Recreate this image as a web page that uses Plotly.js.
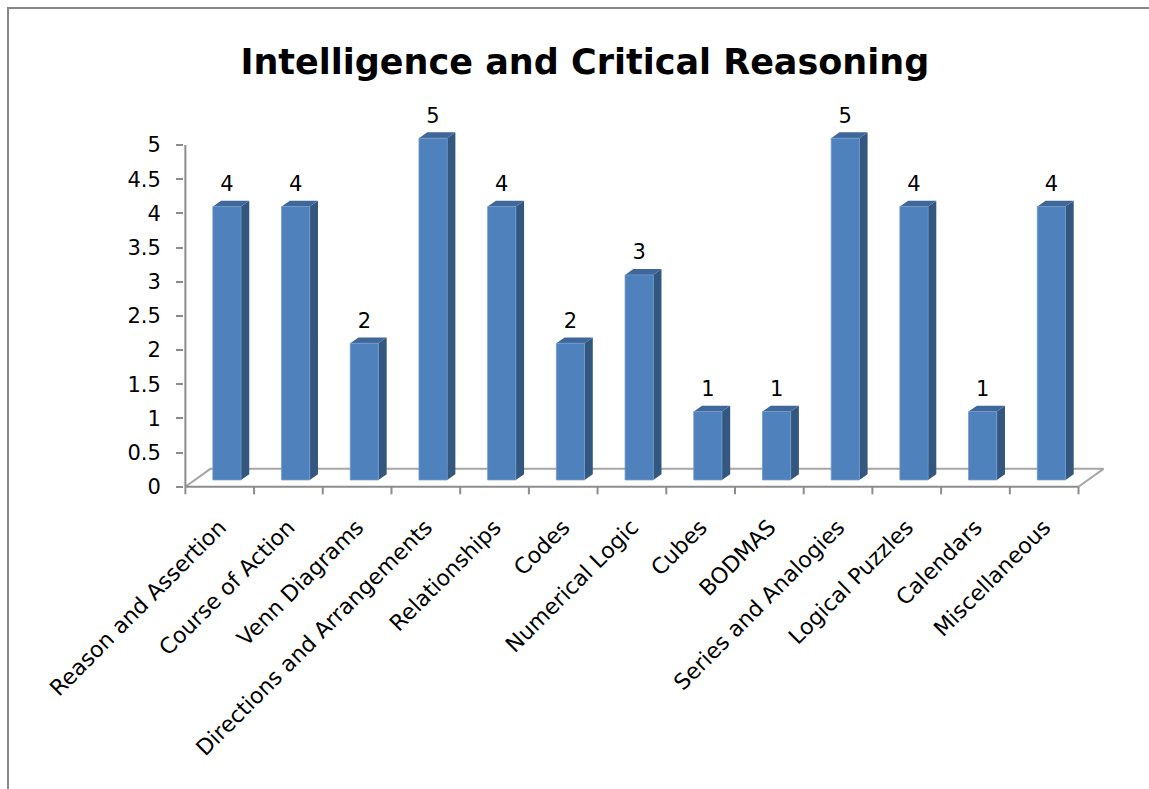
<!DOCTYPE html>
<html>
<head>
<meta charset="utf-8">
<script src="https://cdn.plot.ly/plotly-3.0.1.min.js"></script>
<style>
  html, body { margin: 0; padding: 0; background: #ffffff; }
  #frame { position: absolute; left: 7px; top: 7px; width: 1142px; height: 782px;
           border-left: 2px solid #878787; border-top: 2px solid #878787; pointer-events: none; }
  #chart { position: absolute; left: 0; top: 0; width: 1149px; height: 789px; }
</style>
</head>
<body>
<div id="chart"></div>
<div id="frame"></div>
<script>
// ---- data ----
const categories = ["Reason and Assertion", "Course of Action", "Venn Diagrams",
  "Directions and Arrangements", "Relationships", "Codes", "Numerical Logic",
  "Cubes", "BODMAS", "Series and Analogies", "Logical Puzzles", "Calendars", "Miscellaneous"];
const values = [4, 4, 2, 5, 4, 2, 3, 1, 1, 5, 4, 1, 4];
const yTickVals = [0, 0.5, 1, 1.5, 2, 2.5, 3, 3.5, 4, 4.5, 5];
const yTickText = ["0", "0.5", "1", "1.5", "2", "2.5", "3", "3.5", "4", "4.5", "5"];
const chartTitle = "Intelligence and Critical Reasoning";

// ---- 3D styling constants (in axis units) ----
const FL = -0.10, FR = 0.31;      // front face left/right relative to category index
const DX = 0.12, DY = 0.085;      // bar depth offset
const BASE = 0.10;                // bar base height above front floor edge
const FLOOR_DX = 0.364, FLOOR_DY = 0.263;
const TICK_LEN = 0.11;

const n = categories.length;
const idx = categories.map((_, i) => i);

function polys(fn) {
  const xs = [], ys = [];
  idx.forEach(i => {
    const pts = fn(i, values[i]);
    pts.forEach(p => { xs.push(p[0]); ys.push(p[1]); });
    xs.push(pts[0][0]); ys.push(pts[0][1]);
    xs.push(null); ys.push(null);
  });
  return {xs, ys};
}
const frontFace = polys((i, v) => [[i+FL, BASE], [i+FR, BASE], [i+FR, v+BASE], [i+FL, v+BASE]]);
const sideFace = polys((i, v) => [[i+FR, BASE], [i+FR+DX, BASE+DY], [i+FR+DX, v+BASE+DY], [i+FR, v+BASE]]);
const topFace = polys((i, v) => [[i+FL, v+BASE], [i+FR, v+BASE], [i+FR+DX, v+BASE+DY], [i+FL+DX, v+BASE+DY]]);

const xMin = -0.5, xMax = n - 0.5;
const yMax = yTickVals[yTickVals.length - 1];

// floor outline (back edge + sides)
const floorX = [xMin, xMin+FLOOR_DX, xMax+FLOOR_DX, xMax];
const floorY = [0, FLOOR_DY, FLOOR_DY, 0];

// x tick marks at category boundaries
const tx = [], ty = [];
for (let k = 0; k <= n; k++) { const b = xMin + k; tx.push(b, b, null); ty.push(0, -TICK_LEN, null); }

const traces = [
  {x: floorX, y: floorY, mode: 'lines', line: {color: '#a6a6a6', width: 2}, hoverinfo: 'skip'},
  {x: sideFace.xs, y: sideFace.ys, mode: 'lines', fill: 'toself', fillcolor: '#34577f', line: {width: 0, color: '#34577f'}, hoverinfo: 'skip'},
  {x: topFace.xs, y: topFace.ys, mode: 'lines', fill: 'toself', fillcolor: '#3f679a', line: {width: 0, color: '#3f679a'}, hoverinfo: 'skip'},
  {x: frontFace.xs, y: frontFace.ys, mode: 'lines', fill: 'toself', fillcolor: '#4f81bd', line: {width: 0.8, color: '#6e98cc'}, hoverinfo: 'skip'},
  {x: [xMin, xMax], y: [0, 0], mode: 'lines', line: {color: '#8c8c8c', width: 2}, hoverinfo: 'skip'},
  {x: [xMin, xMin], y: [0, yMax], mode: 'lines', line: {color: '#8c8c8c', width: 2}, hoverinfo: 'skip'},
  {x: tx, y: ty, mode: 'lines', line: {color: '#8c8c8c', width: 2}, hoverinfo: 'skip'},
  {x: idx.map(i => i + (FL+FR)/2), y: values.map(v => v + BASE + 0.15), mode: 'text',
   text: values.map(String), textposition: 'top center', cliponaxis: false,
   textfont: {family: 'DejaVu Sans', size: 21, color: '#000'}, hoverinfo: 'skip'}
];

const layout = {
  width: 1149, height: 789,
  margin: {l: 184, r: 43, t: 104, b: 294},
  paper_bgcolor: 'rgba(0,0,0,0)', plot_bgcolor: 'rgba(0,0,0,0)',
  showlegend: false, hovermode: false,
  title: {text: '<b>' + chartTitle + '</b>', font: {family: 'DejaVu Sans', size: 35, color: '#000'},
          x: 0.509, xref: 'container', xanchor: 'center', y: 0.922, yref: 'container', yanchor: 'middle'},
  xaxis: {range: [-0.52, 12.9], tickmode: 'array', tickvals: idx, ticktext: categories,
          tickangle: -45, ticks: '', showgrid: false, zeroline: false, showline: false,
          ticklabelstandoff: 14,
          tickfont: {family: 'DejaVu Sans', size: 22, color: '#000'}},
  yaxis: {range: [-0.12, 5.6], tickmode: 'array', tickvals: yTickVals, ticktext: yTickText,
          ticks: 'outside', ticklen: 7, tickwidth: 2, tickcolor: '#8c8c8c',
          showgrid: false, zeroline: false, showline: false, ticklabelstandoff: 11,
          tickfont: {family: 'DejaVu Sans', size: 21, color: '#000'}}
};

Plotly.newPlot('chart', traces, layout, {displayModeBar: false, staticPlot: true});
</script>
</body>
</html>
